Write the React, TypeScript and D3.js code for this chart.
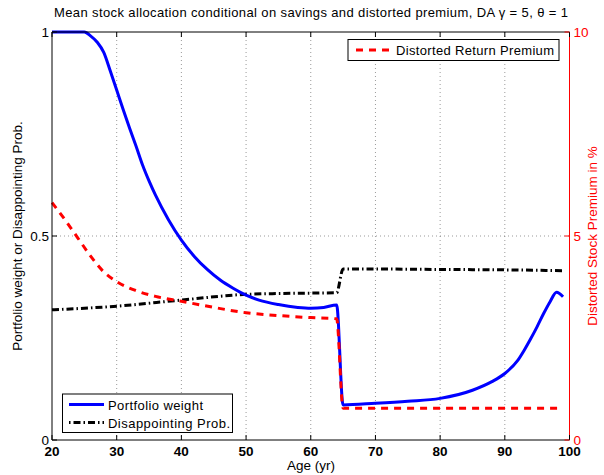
import React from "react";
import * as d3 from "d3";

// Portfolio weight (left axis)
const weightAges = [20, 25, 26, 27, 28, 29, 30, 31, 32, 33, 34, 35, 36, 38, 40, 42, 44, 46, 48, 50, 52, 55, 58, 60, 62, 64, 65, 70, 75, 80, 85, 88, 90, 92, 93, 94, 95, 96, 97, 98, 99];
const weightValues = [1.0, 1.0, 0.99, 0.975, 0.95, 0.905, 0.858, 0.81, 0.764, 0.72, 0.674, 0.635, 0.6, 0.54, 0.49, 0.45, 0.418, 0.392, 0.372, 0.355, 0.343, 0.332, 0.325, 0.323, 0.325, 0.331, 0.086, 0.09, 0.095, 0.102, 0.122, 0.143, 0.163, 0.195, 0.22, 0.248, 0.278, 0.31, 0.339, 0.362, 0.351];

// Disappointing probability (left axis)
const probAges = [20, 30, 40, 50, 55, 60, 64, 65, 70, 80, 90, 95, 99];
const probValues = [0.319, 0.328, 0.343, 0.357, 0.359, 0.36, 0.361, 0.419, 0.419, 0.418, 0.417, 0.416, 0.415];

// Distorted return premium in % (right axis)
const premAges = [20, 22, 24, 26, 28, 30, 33, 36, 40, 45, 50, 55, 60, 64, 65, 70, 80, 90, 98.5];
const premValues = [5.82, 5.4, 4.95, 4.5, 4.12, 3.88, 3.66, 3.52, 3.4, 3.25, 3.12, 3.05, 3.0, 2.97, 0.78, 0.78, 0.78, 0.78, 0.78];

const xTicks = [20, 30, 40, 50, 60, 70, 80, 90, 100];
const leftTicks = [0, 0.5, 1];
const leftTickLabels = ["0", "0.5", "1"];
const rightTicks = [0, 5, 10];

const W = 604;
const H = 475;
const L = 52;
const R = 569.5;
const T = 32;
const B = 440;

const FONT = "'Liberation Sans', Arial, Helvetica, sans-serif";

export default function App() {
  const x = d3.scaleLinear().domain([20, 100]).range([L, R]);
  const yL = d3.scaleLinear().domain([0, 1]).range([B, T]);
  const yR = d3.scaleLinear().domain([0, 10]).range([B, T]);

  const weightLine = d3
    .line<number>()
    .x((_, i) => x(weightAges[i]))
    .y((d) => yL(d))
    .curve(d3.curveMonotoneX)(weightValues) as string;
  const probLine = d3
    .line<number>()
    .x((_, i) => x(probAges[i]))
    .y((d) => yL(d))
    .curve(d3.curveMonotoneX)(probValues) as string;
  const premLine = d3
    .line<number>()
    .x((_, i) => x(premAges[i]))
    .y((d) => yR(d))
    .curve(d3.curveMonotoneX)(premValues) as string;

  const blue = "#0000ff";
  const red = "#ff0000";
  const dashDot = "7 3 1.5 3";
  const redDash = "7 6";

  return (
    <svg width={W} height={H} style={{ display: "block", position: "absolute", left: 0, top: 0 }} fontFamily={FONT}>
      <rect x={0} y={0} width={W} height={H} fill="#fff" />
      {/* grid */}
      {xTicks.slice(1, -1).map((t) => (
        <line key={"gx" + t} x1={x(t)} x2={x(t)} y1={T} y2={B} stroke="#555" strokeWidth={0.6} strokeDasharray="1 3" />
      ))}
      <line x1={L} x2={R} y1={yL(0.5)} y2={yL(0.5)} stroke="#555" strokeWidth={0.6} strokeDasharray="1 3" />

      {/* data */}
      <path d={probLine} fill="none" stroke="#000" strokeWidth={3} strokeDasharray={dashDot} />
      <path d={weightLine} fill="none" stroke={blue} strokeWidth={3} strokeLinejoin="round" />
      <path d={premLine} fill="none" stroke={red} strokeWidth={3} strokeDasharray={redDash} />

      {/* axes frame */}
      <line x1={L} x2={R} y1={T} y2={T} stroke="#000" strokeWidth={1} />
      <line x1={L} x2={R} y1={B} y2={B} stroke="#000" strokeWidth={1} />
      <line x1={L} x2={L} y1={T} y2={B} stroke="#000" strokeWidth={1} />
      <line x1={R} x2={R} y1={T} y2={B} stroke={red} strokeWidth={1} />

      {/* x ticks */}
      {xTicks.map((t) => (
        <g key={"xt" + t}>
          <line x1={x(t)} x2={x(t)} y1={B} y2={B - 5} stroke="#000" />
          <line x1={x(t)} x2={x(t)} y1={T} y2={T + 5} stroke="#000" />
          <text x={x(t)} y={B + 16} textAnchor="middle" fontSize={13.5} fontWeight="bold" fill="#000">
            {t}
          </text>
        </g>
      ))}
      {/* left ticks */}
      {leftTicks.map((t, i) => (
        <g key={"yl" + t}>
          <line x1={L} x2={L + 5} y1={yL(t)} y2={yL(t)} stroke="#000" />
          <text x={L - 3} y={yL(t) + 5} textAnchor="end" fontSize={13.5} fill="#000">
            {leftTickLabels[i]}
          </text>
        </g>
      ))}
      {/* right ticks */}
      {rightTicks.map((t) => (
        <g key={"yr" + t}>
          <line x1={R} x2={R - 5} y1={yR(t)} y2={yR(t)} stroke={red} />
          <text x={R + 4} y={yR(t) + 5} textAnchor="start" fontSize={13.5} fill={red}>
            {t}
          </text>
        </g>
      ))}

      {/* titles */}
      <text x={311} y={17} textAnchor="middle" fontSize={13} textLength={514} lengthAdjust="spacing" fill="#000">
        Mean stock allocation conditional on savings and distorted premium, DA γ = 5, θ = 1
      </text>
      <text x={311} y={470} textAnchor="middle" fontSize={13.5} fill="#000">
        Age (yr)
      </text>
      <text transform={`translate(22,${(T + B) / 2}) rotate(-90)`} textAnchor="middle" fontSize={13.5} fill="#000">
        Portfolio weight or Disappointing Prob.
      </text>
      <text transform={`translate(597,${(T + B) / 2}) rotate(-90)`} textAnchor="middle" fontSize={13.5} fill={red}>
        Distorted Stock Premium in %
      </text>

      {/* legend: premium */}
      <rect x={348} y={39.5} width={211} height={21} fill="#fff" stroke="#000" strokeWidth={1} />
      <line x1={356} x2={392} y1={50} y2={50} stroke={red} strokeWidth={3} strokeDasharray={redDash} />
      <text x={396} y={55} fontSize={13} textLength={158} lengthAdjust="spacing" fill="#000">
        Distorted Return Premium
      </text>

      {/* legend: weight and probability */}
      <rect x={62.5} y={394} width={170} height={38.5} fill="#fff" stroke="#000" strokeWidth={1} />
      <line x1={69} x2={104} y1={404.5} y2={404.5} stroke={blue} strokeWidth={3} />
      <text x={108} y={409.5} fontSize={13} textLength={95} lengthAdjust="spacing" fill="#000">
        Portfolio weight
      </text>
      <line x1={69} x2={104} y1={422.5} y2={422.5} stroke="#000" strokeWidth={3} strokeDasharray="1.5 3 7 3" />
      <text x={108} y={427.5} fontSize={13} textLength={122} lengthAdjust="spacing" fill="#000">
        Disappointing Prob.
      </text>
    </svg>
  );
}
